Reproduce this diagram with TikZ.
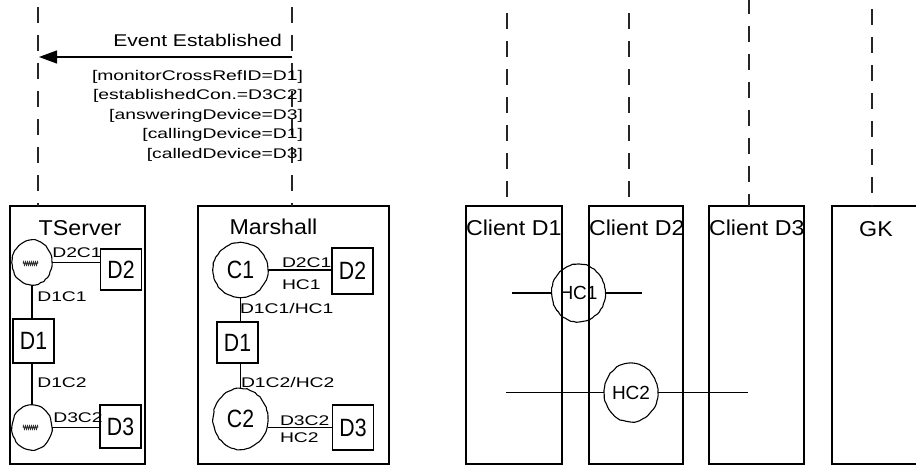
\documentclass[tikz,border=0pt]{standalone}
\usepackage{fontspec}
\setmainfont{Liberation Sans}
\newfontfamily\titlef{Liberation Sans}[FakeStretch=1.08]
\newfontfamily\lblf{Liberation Sans}[FakeStretch=1.38]
\newfontfamily\evf{Liberation Sans}[FakeStretch=1.24]
\newfontfamily\devf{Liberation Sans}[FakeStretch=0.85]
\usetikzlibrary{arrows.meta, shapes.geometric, decorations.pathmorphing}
\pgfmathsetseed{7}
\begin{document}
\begin{tikzpicture}[x=1pt, y=-1pt,
  every node/.style={inner sep=0pt, outer sep=0pt},
  frame/.style={draw, line width=1.2pt, rectangle, minimum height=258pt},
  devbox/.style={draw, line width=1.2pt, rectangle, minimum width=41pt, font=\devf\fontsize{25}{25}\selectfont},
  conn/.style={draw, line width=1.1pt, ellipse, decorate, decoration={random steps, segment length=3pt, amplitude=0.45pt}, font=\devf\fontsize{25}{25}\selectfont},
  hcconn/.style={conn, font=\fontsize{19}{19}\selectfont},
  wire/.style={line width=1.2pt},
  zig/.style={line width=0.9pt, draw=black!80, decorate, decoration={zigzag, segment length=2pt, amplitude=1.6pt}},
  lbl/.style={font=\lblf\fontsize{14}{19.5}\selectfont},
  title/.style={font=\titlef\fontsize{21.5}{24}\selectfont},
  evt/.style={font=\evf\fontsize{17}{20}\selectfont},
  life/.style={line width=1.4pt, draw=black!85, dash pattern=on 16pt off 12pt}
]
\useasboundingbox (0,0) rectangle (916,465);

% ---------- boxes ----------
\node[frame, minimum width=135pt] (tserver)  at (77.5,335) {};
\node[frame, minimum width=191pt] (marshall) at (293.5,335) {};
\node[frame, minimum width=96pt]  (cd1)      at (514,335) {};
\node[frame, minimum width=94pt]  (cd2)      at (636,335) {};
\node[frame, minimum width=95pt]  (cd3)      at (756.5,335) {};
\node[frame, minimum width=98pt]  (gk)       at (881,335) {};

\node[title] (tsT) at (80,228) {TServer};
\node[title] (mT)  at (273.5,227) {Marshall};
\node[title, anchor=west] (c1T) at (466,228) {Client D1};
\node[title, anchor=west] (c2T) at (589,228) {Client D2};
\node[title, anchor=west] (c3T) at (709,228) {Client D3};
\node[title] (gkT) at (876,229) {GK};

% ---------- lifelines ----------
\coordinate (ltTs) at (38,7);
\coordinate (ltM)  at (292,7);
\coordinate (ltC1) at (507,13);
\coordinate (ltC2) at (629,13);
\coordinate (ltC3) at (749,-2);
\coordinate (ltGk) at (872,9);
\draw[life] (ltTs) -- (ltTs |- tserver.north);
\draw[life] (ltM)  -- (ltM |- marshall.north);
\draw[life] (ltC1) -- (ltC1 |- cd1.north);
\draw[life] (ltC2) -- (ltC2 |- cd2.north);
\draw[life] (ltC3) -- (ltC3 |- cd3.north);
\draw[life] (ltGk) -- (ltGk |- gk.north);

% ---------- event message ----------
\coordinate (evFrom) at (292,57);
\coordinate (evTo)   at (39,57);
\draw[line width=1.3pt, -{Triangle[length=18pt,width=13pt]}] (evFrom) -- (evTo);
\node[evt, anchor=east] (evlbl) at (282,40.5) {Event Established};
\node[lbl, anchor=north east, align=right] (attrs) at (303,70)
  {{[monitorCrossRefID=D1]}\\{[establishedCon.=D3C2]}\\{[answeringDevice=D3]}\\{[callingDevice=D1]}\\{[calledDevice=D3]}};

% ---------- TServer contents ----------
\node[conn, minimum width=40pt, minimum height=45pt] (tc1) at (32,262.5) {};
\node[devbox, minimum height=41pt] (td2) at (121,269.5) {D2};
\node[devbox, minimum height=44pt] (td1) at (33.5,341) {D1};
\node[conn, minimum width=40pt, minimum height=45pt] (tc2) at (32,427.5) {};
\node[devbox, minimum height=43pt] (td3) at (120.5,426.5) {D3};
\draw[zig] (23,263.5) -- (38,263.5);
\draw[zig] (23,427.5) -- (38,427.5);

\draw[wire] (tc1.east) -- (tc1.east -| td2.west);
\draw[wire] (tc1.south) -- (tc1.south |- td1.north);
\draw[wire] (tc2.north |- td1.south) -- (tc2.north);
\draw[wire] (tc2.east) -- (tc2.east -| td3.west);

\node[lbl] (tl1) at (77,252.5) {D2C1};
\node[lbl] (tl2) at (62,297) {D1C1};
\node[lbl] (tl3) at (62,383) {D1C2};
\node[lbl] (tl4) at (78,418) {D3C2};

% ---------- Marshall contents ----------
\node[conn, minimum width=55pt, minimum height=55pt] (mc1) at (240.5,270) {C1};
\node[devbox, minimum height=46pt] (md2) at (352.5,271) {D2};
\node[devbox, minimum height=41pt] (md1) at (237.5,342.5) {D1};
\node[conn, minimum width=55pt, minimum height=61pt] (mc2) at (240.5,419) {C2};
\node[devbox, minimum height=45pt] (md3) at (353,427.5) {D3};

\draw[wire] (mc1.east) -- (mc1.east -| md2.west);
\draw[wire] (mc1.south) -- (mc1.south |- md1.north);
\draw[wire] (mc2.north |- md1.south) -- (mc2.north);
\draw[wire] (md3.west) -- (md3.west -| mc2.east);

\node[lbl, anchor=west] (ml1) at (282,263) {D2C1};
\node[lbl, anchor=west] (ml2) at (282,285) {HC1};
\node[lbl, anchor=west] (ml3) at (240,308) {D1C1/HC1};
\node[lbl, anchor=west] (ml4) at (241,382) {D1C2/HC2};
\node[lbl, anchor=west] (ml5) at (280,421) {D3C2};
\node[lbl, anchor=west] (ml6) at (280,437.5) {HC2};

% ---------- client-side calls ----------
\node[hcconn, minimum width=53pt, minimum height=58pt] (hc1) at (578.5,293) {HC1};
\node[hcconn, minimum width=52pt, minimum height=59pt] (hc2) at (631,392.5) {HC2};
\coordinate (hc1a) at (512,293);
\coordinate (hc1b) at (642,293);
\coordinate (hc2a) at (506,392.5);
\coordinate (hc2b) at (748,392.5);
\draw[wire] (hc1a) -- (hc1.west);
\draw[wire] (hc1.east) -- (hc1b);
\draw[wire] (hc2a) -- (hc2.west);
\draw[wire] (hc2.east) -- (hc2b);
\end{tikzpicture}
\end{document}
